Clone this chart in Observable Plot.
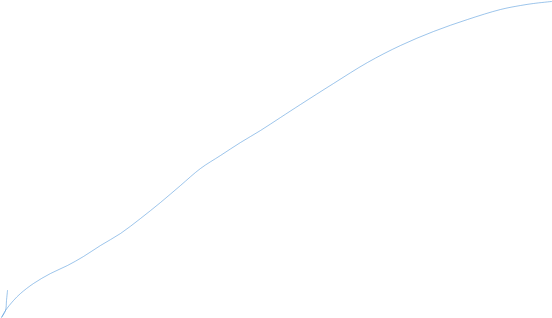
<!DOCTYPE html>
<html>
<head>
<meta charset="utf-8">
<script src="https://cdn.jsdelivr.net/npm/d3@7"></script>
<script src="https://cdn.jsdelivr.net/npm/@observablehq/plot@0.6"></script>
<style>
  html, body { margin: 0; padding: 0; background: #fff; }
</style>
</head>
<body>
<div id="chart"></div>
<script>
// Curve samples (x position, y value)
const xs = [7, 6, 5, 1, 5, 13, 20, 33, 50, 67, 83, 100, 120, 140, 160, 180, 200, 220, 240, 260, 280, 300, 333, 367, 400, 433, 467, 500, 520, 533, 551];
const ys = [28, 18, 8, 1, 8, 18, 25, 35, 45, 53, 62, 73, 85, 100, 116, 133, 150, 163, 176, 188, 201, 214, 235, 256, 273, 287, 299, 309, 313, 315, 317];

const data = xs.map((x, i) => ({x, y: ys[i]}));

const chart = Plot.plot({
  width: 552,
  height: 318,
  margin: 0,
  x: {domain: [0, 552], axis: null},
  y: {domain: [0, 318], axis: null},
  marks: [
    Plot.line(data, {x: "x", y: "y", curve: "catmull-rom", stroke: "#3a8ad6", strokeWidth: 0.5})
  ]
});
document.getElementById("chart").appendChild(chart);
</script>
</body>
</html>
